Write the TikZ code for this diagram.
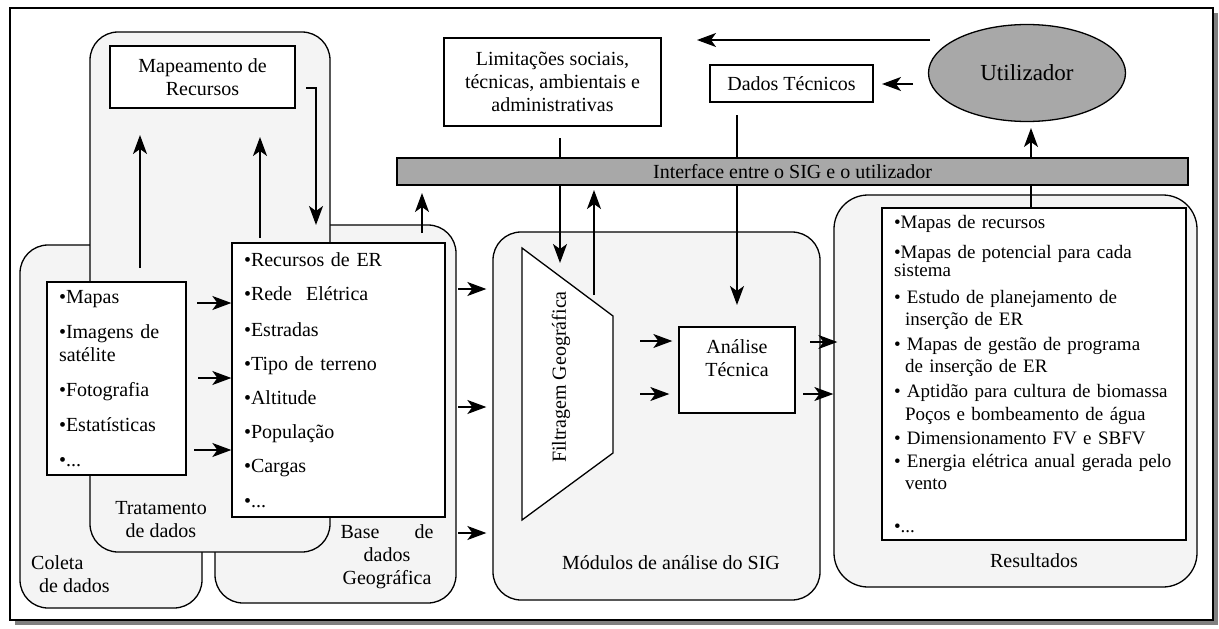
\documentclass[tikz,border=0pt]{standalone}
\usepackage{fontspec}
\setmainfont{Liberation Serif}
\usetikzlibrary{arrows.meta,shapes.geometric}
\begin{document}
\begin{tikzpicture} [x=1pt, y=-1pt, every node/.style={font=\fontsize{20}{23}\selectfont, inner sep=0pt},
                group_style/.style={draw, line width=1.3pt, rounded corners=28pt, fill=gray!9},
                box_style/.style={draw, line width=1.3pt, fill=white},
                arr/.style={-{Stealth[length=19pt,width=14pt,inset=5pt]}, line width=1.4pt}]
                \tikzset{gray_fill/.style={draw, line width=1.3pt, fill=black!34}}
                \useasboundingbox (0,0) rectangle (1219,629);
                \fill[black!50] (15,13) rectangle (1218,625);
                \draw[fill=white, line width=1.3pt] (10,8) rectangle (1213,620);
                \node[group_style, minimum width=182pt, minimum height=363pt] (coleta) at (111,426.5) {};
                \node[group_style, minimum width=241pt, minimum height=378pt] (base) at (335.5,414) {};
                \node[group_style, minimum width=240pt, minimum height=520pt] (tratamento) at (210,292) {};
                \node[group_style, minimum width=327pt, minimum height=368pt] (modulos) at (656.5,416) {};
                \node[group_style, rounded corners=34pt, minimum width=363pt, minimum height=392pt] (resultados) at (1015.5,391) {};
                \node[align=center] (tratamento_lbl) at (161,520) {Tratamento\\de dados};
                \node[align=left, anchor=west] (coleta_lbl) at (31,574) {Coleta\\\hspace*{8pt}de dados};
                \node[align=center] (base_lbl) at (387,557) {Base\hspace{35pt}de\\dados\\Geográfica};
                \node (modulos_lbl) at (671,563) {Módulos de análise do SIG};
                \node (resultados_lbl) at (1034,561) {Resultados};
                \node[box_style, minimum width=185pt, minimum height=62pt, align=center] (mapeamento) at (202.5,77) {Mapeamento de\\Recursos};
                \node[box_style, minimum width=139pt, minimum height=193pt, text width=115pt, align=left, inner xsep=12pt] (mapas) at (116.5,378.5)
                    {•Mapas\\[12pt]•Imagens de\\satélite\\[12pt]•Fotografia\\[12pt]•Estatísticas\\[12pt]•...};
                \node[box_style, minimum width=213pt, minimum height=274pt, text width=189pt, align=left, inner xsep=12pt] (recursos) at (338.5,380)
                    {•Recursos de ER\\[11pt]•Rede\hspace{14pt}Elétrica\\[13pt]•Estradas\\[11pt]•Tipo de terreno\\[11pt]•Altitude\\[11pt]•População\\[11pt]•Cargas\\[12pt]•...};
                \node[box_style, minimum width=217pt, minimum height=88pt, align=center] (limitacoes) at (552.5,82)
                    {Limitações sociais,\\técnicas, ambientais e\\administrativas};
                \node[box_style, minimum width=163pt, minimum height=37pt] (dados) at (791.5,83.5) {Dados Técnicos};
                \node[gray_fill, ellipse, minimum width=197pt, minimum height=97pt, font=\fontsize{23}{26}\selectfont] (utilizador) at (1027,73) {Utilizador};
                \draw[box_style] (522,248) -- (613,316) -- (613,453) -- (522,520) -- cycle;
                \node[rotate=90] (filtragem) at (561,377) {Filtragem Geográfica};
                \node[box_style, minimum width=116pt, minimum height=86pt, align=center] (analise) at (737,370) {Análise\\Técnica\\\mbox{}};
                \node[box_style, minimum width=304pt, minimum height=332pt, text width=280pt, align=left, inner xsep=12pt,
                    font=\fontsize{19}{23}\selectfont] (lista_res) at (1034,374)
                    {•Mapas de recursos\\[7pt]
                     •Mapas de potencial para cada\\[-5pt]
                     sistema\\[4pt]
                     • Estudo de planejamento de\\[-1pt]
                     \hspace*{11pt}inserção de ER\\[2pt]
                     • Mapas de gestão de programa\\[-1pt]
                     \hspace*{11pt}de inserção de ER\\[2pt]
                     • Aptidão para cultura de biomassa\\
                     \hspace*{11pt}Poços e bombeamento de água\\[1pt]
                     • Dimensionamento FV e SBFV\\
                     • Energia elétrica anual gerada pelo\\[-1pt]
                     \hspace*{11pt}vento\\[20pt]
                     •...};
                \coordinate (lim_out) at (560,138);
                \coordinate (filt_in) at (560,263);
                \coordinate (dados_out) at (737,115);
                \coordinate (analise_in) at (737,305);
                \coordinate (res_out) at (1031,208);
                \coordinate (util_in) at (1031,128);
                \draw[arr] (lim_out) -- (filt_in);
                \draw[arr] (dados_out) -- (analise_in);
                \draw[arr] (res_out) -- (util_in);
                \node[gray_fill, minimum width=791pt, minimum height=27pt] (interface) at (792.5,171.5) {Interface entre o SIG e o utilizador};
                \coordinate (mapas_up) at (140,268);
                \coordinate (map_in1) at (140,135);
                \coordinate (rec_up) at (260,238);
                \coordinate (map_in2) at (260,137);
                \coordinate (map_out) at (306,88);
                \coordinate (rec_in) at (316,225);
                \coordinate (base_up) at (422,233);
                \coordinate (inter_in) at (422,193);
                \coordinate (filt_up) at (594,295);
                \coordinate (inter_in2) at (594,190);
                \coordinate (util_out) at (913,84);
                \coordinate (dados_in) at (882,84);
                \coordinate (util_top) at (930,40);
                \coordinate (lim_top) at (697,40);
                \draw[arr] (mapas_up) -- (map_in1);
                \draw[arr] (rec_up) -- (map_in2);
                \draw[arr] (map_out) -| (rec_in);
                \draw[arr] (base_up) -- (inter_in);
                \draw[arr] (filt_up) -- (inter_in2);
                \draw[arr] (util_out) -- (dados_in);
                \draw[arr] (util_top) -- (lim_top);
                \coordinate (m1) at (197,303);
                \coordinate (m2) at (198,378);
                \coordinate (m3) at (194,450);
                \draw[arr] (m1) -- (m1 -| recursos.west);
                \draw[arr] (m2) -- (m2 -| recursos.west);
                \draw[arr] (m3) -- (m3 -| recursos.west);
                \coordinate (b1) at (458,289);
                \coordinate (b2) at (458,407);
                \coordinate (b3) at (458,533);
                \draw[arr, shorten >=6pt] (b1) -- (b1 -| modulos.west);
                \draw[arr, shorten >=6pt] (b2) -- (b2 -| modulos.west);
                \draw[arr, shorten >=6pt] (b3) -- (b3 -| modulos.west);
                \coordinate (f1) at (640,341);
                \coordinate (f2) at (640,394);
                \draw[arr, shorten >=6pt] (f1) -- (f1 -| analise.west);
                \draw[arr, shorten >=9pt] (f2) -- (f2 -| analise.west);
                \coordinate (r1) at (810,342);
                \coordinate (r2) at (803,394);
                \draw[arr, shorten >=-4pt] (r1) -- (r1 -| resultados.west);
                \draw[arr] (r2) -- (r2 -| resultados.west);
            \end{tikzpicture}
\end{document}
